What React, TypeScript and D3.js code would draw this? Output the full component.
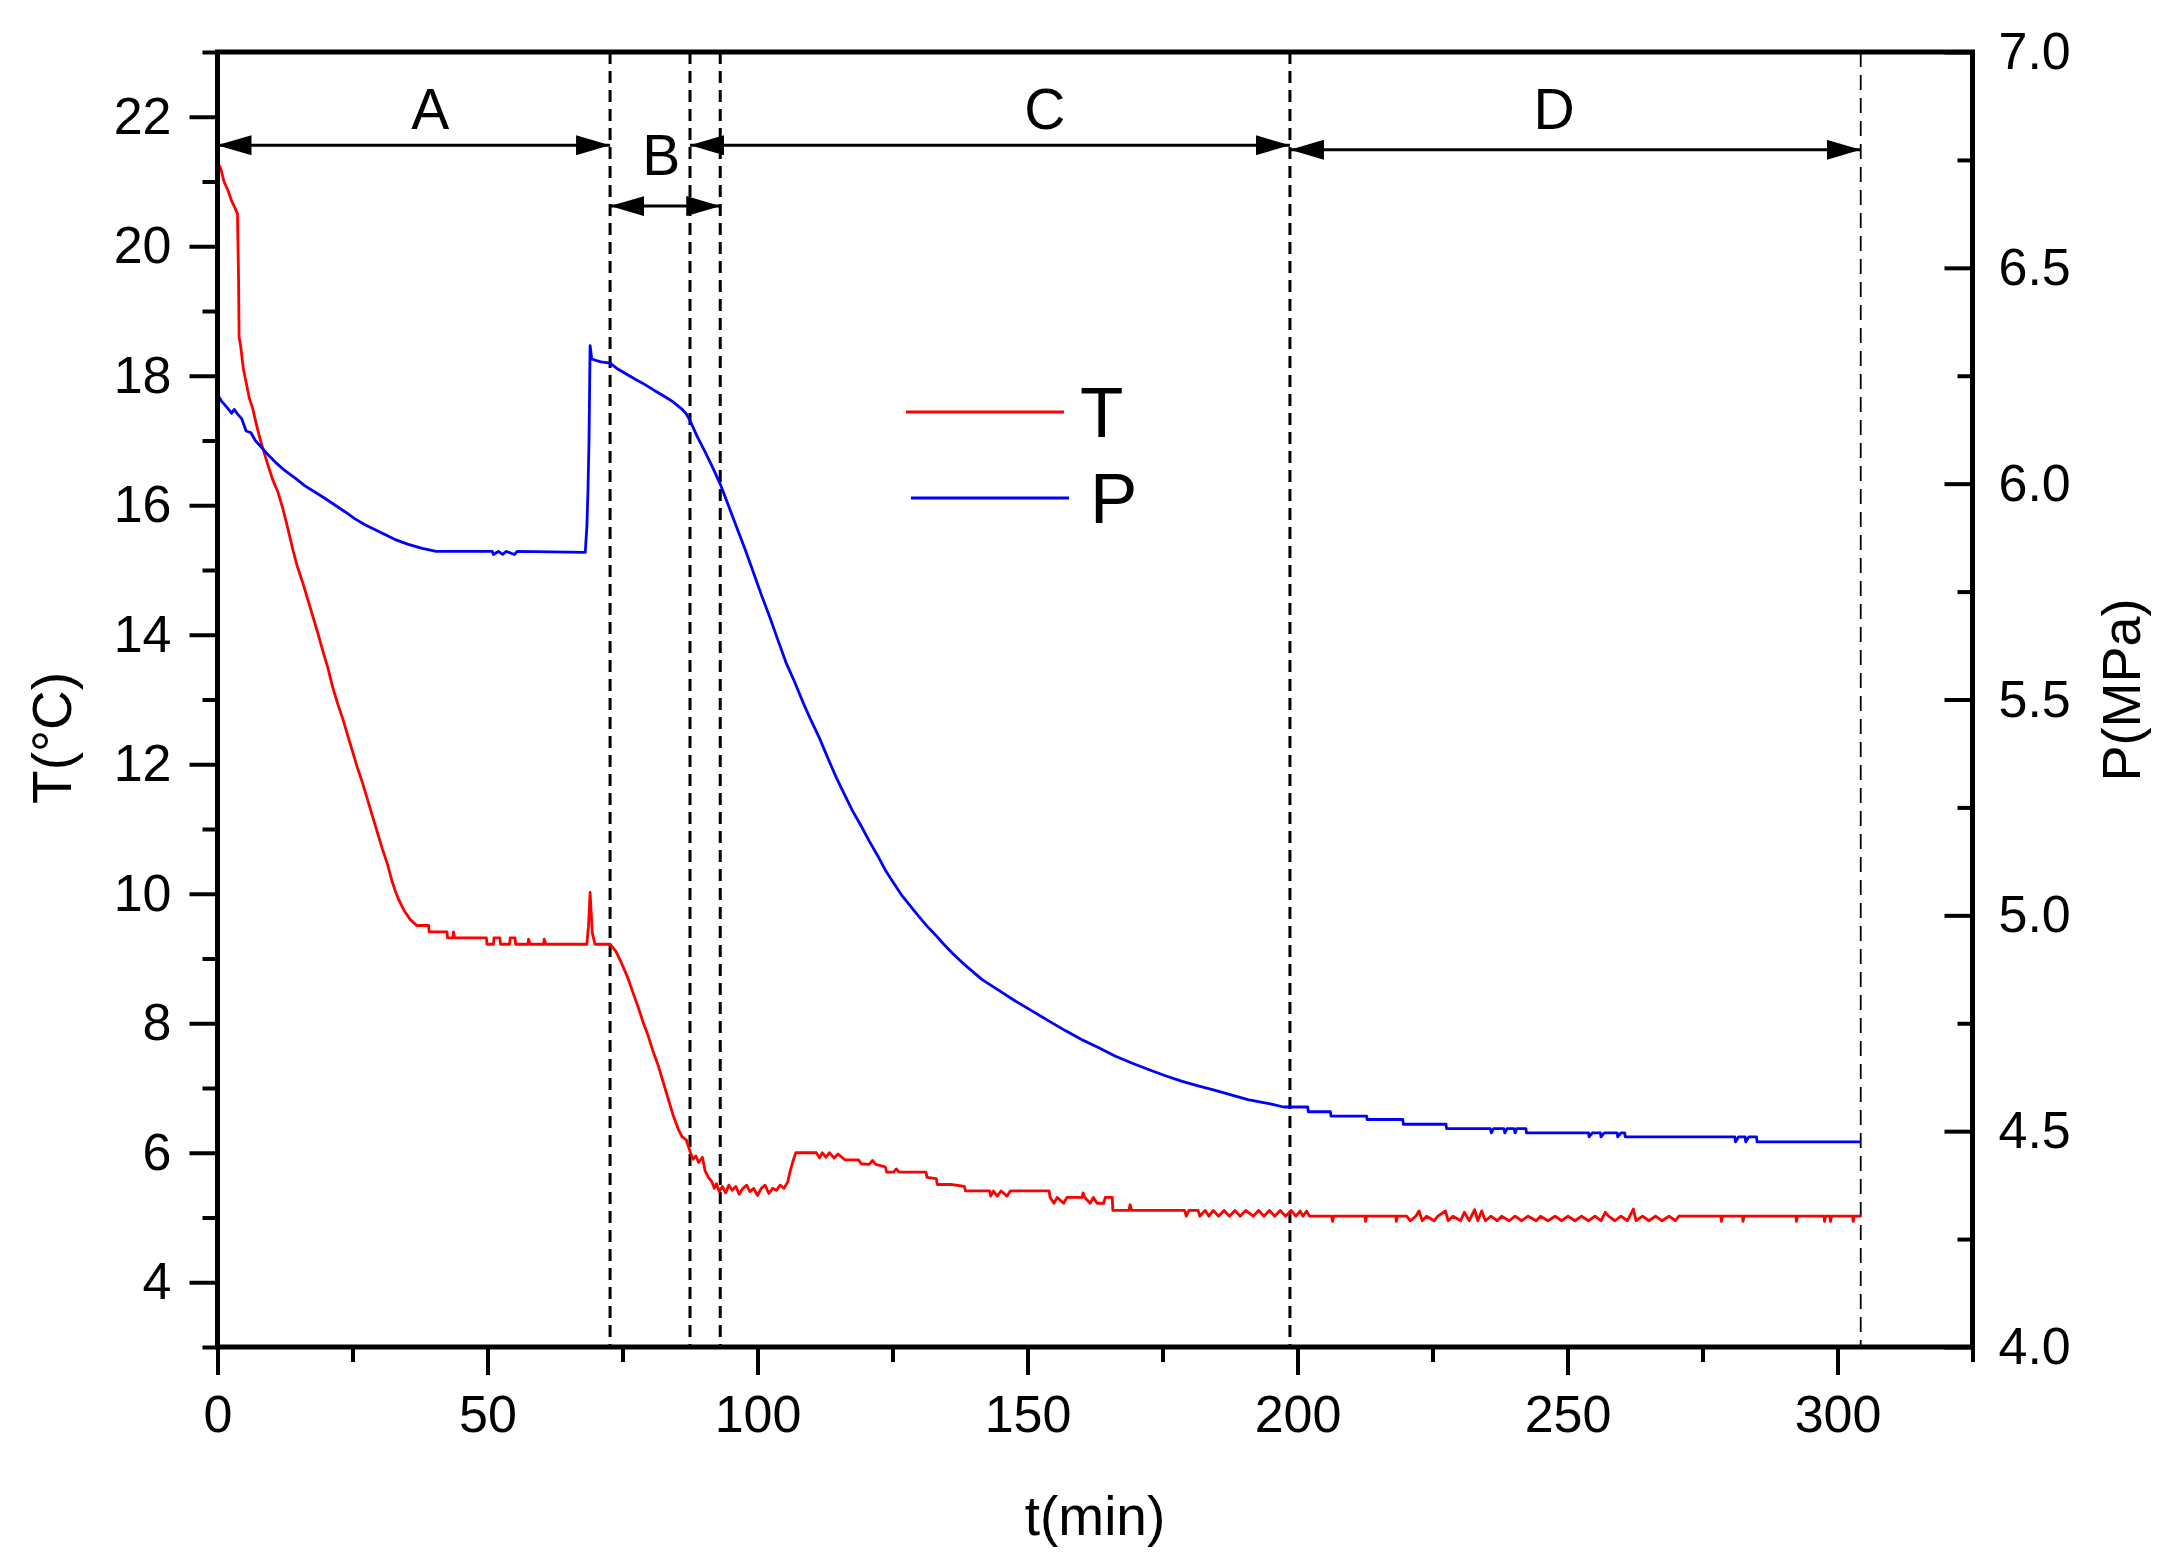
import { useEffect, useRef } from 'react'
import * as d3 from 'd3'

const W = 2177
const H = 1565
const FONT = '"Liberation Sans", Arial, sans-serif'

// plot box in page pixels
const left = 217.5
const right = 1972.5
const top = 52
const bottom = 1347

// T (°C) against t (min)
const tempData: [number, number][] = [
  [0, 21.3], [0.6, 21.2], [1.2, 21.0], [2.0, 20.85], [2.6, 20.7], [3.2, 20.6], [3.7, 20.5], [3.9, 19.5],
  [4.0, 18.6], [4.3, 18.45], [4.8, 18.1], [5.3, 17.9], [5.9, 17.65], [6.5, 17.5], [7.2, 17.25], [7.8, 17.05],
  [8.5, 16.85], [9.3, 16.63], [10.2, 16.4], [11.2, 16.2], [12.1, 15.95], [13.0, 15.65], [14.0, 15.3],
  [14.8, 15.05], [15.8, 14.8], [16.7, 14.55], [17.6, 14.3], [18.5, 14.05], [19.5, 13.75], [20.4, 13.5],
  [21.3, 13.2], [22.2, 12.95], [23.2, 12.7], [24.1, 12.45], [25.0, 12.2], [25.9, 11.95], [26.9, 11.7],
  [27.8, 11.45], [28.7, 11.2], [29.6, 10.95], [30.5, 10.7], [31.5, 10.45], [32.3, 10.2], [32.9, 10.05],
  [33.6, 9.9], [34.5, 9.75], [35.7, 9.6], [36.9, 9.51], [39.1, 9.51], [39.2, 9.41], [42.5, 9.41],
  [42.6, 9.32], [43.6, 9.32], [43.7, 9.41], [43.9, 9.32], [49.8, 9.32], [49.9, 9.22], [51.1, 9.22],
  [51.2, 9.32], [52.3, 9.32], [52.4, 9.22], [54.1, 9.22], [54.2, 9.32], [55.1, 9.32], [55.2, 9.22],
  [57.5, 9.22], [57.6, 9.3], [57.9, 9.22], [60.4, 9.22], [60.5, 9.3], [60.8, 9.22], [68.4, 9.22],
  [68.7, 9.5], [69.0, 10.02], [69.4, 9.4], [69.9, 9.22], [72.7, 9.22], [73.7, 9.12], [74.7, 8.95],
  [76.0, 8.7], [76.9, 8.48], [77.9, 8.25], [78.8, 8.02], [79.7, 7.82], [80.6, 7.58], [81.6, 7.35],
  [82.5, 7.1], [83.4, 6.85], [84.3, 6.6], [85.3, 6.37], [86.0, 6.25], [86.8, 6.2], [87.6, 6.0],
  [88.1, 5.9], [88.6, 5.95], [89.1, 5.85], [89.8, 5.93], [90.3, 5.72], [90.9, 5.62], [91.5, 5.56],
  [92.0, 5.45], [92.4, 5.52], [92.9, 5.4], [93.5, 5.48], [94.1, 5.38], [94.7, 5.5], [95.3, 5.42],
  [96.0, 5.48], [96.6, 5.36], [97.3, 5.45], [98.0, 5.5], [98.6, 5.4], [99.3, 5.45], [100.0, 5.34],
  [100.7, 5.45], [101.4, 5.5], [102.1, 5.37], [102.8, 5.45], [103.5, 5.42], [104.2, 5.5], [104.9, 5.45],
  [105.6, 5.55], [106.0, 5.7], [106.6, 5.88], [107.1, 6.0], [110.9, 6.0], [111.5, 5.92], [112.0, 6.0],
  [112.7, 5.93], [113.3, 6.0], [114.2, 5.92], [114.9, 5.98], [116.2, 5.89], [118.7, 5.89], [119.2, 5.83],
  [120.7, 5.82], [121.3, 5.88], [121.9, 5.82], [123.7, 5.78], [123.9, 5.7], [125.2, 5.7], [125.7, 5.75],
  [126.2, 5.7], [131.2, 5.7], [131.4, 5.62], [133.1, 5.6], [133.3, 5.51], [135.8, 5.51], [138.3, 5.48],
  [138.5, 5.41], [143.0, 5.41], [143.2, 5.33], [143.7, 5.41], [144.4, 5.33], [145.1, 5.41], [146.2, 5.33],
  [146.8, 5.41], [154.0, 5.41], [154.2, 5.31], [154.9, 5.22], [155.5, 5.31], [156.7, 5.22], [157.3, 5.31],
  [160.1, 5.31], [160.3, 5.38], [160.6, 5.31], [161.6, 5.22], [162.2, 5.31], [162.9, 5.22], [164.1, 5.22],
  [164.4, 5.31], [165.7, 5.31], [165.8, 5.11], [168.8, 5.11], [169.0, 5.2], [169.3, 5.11], [179.1, 5.11],
  [179.4, 5.02], [179.9, 5.11], [181.6, 5.11], [181.9, 5.02], [182.9, 5.11], [183.6, 5.02], [184.4, 5.11],
  [185.4, 5.02], [186.4, 5.11], [187.4, 5.02], [188.4, 5.11], [189.4, 5.02], [190.4, 5.11], [191.8, 5.02],
  [192.8, 5.11], [193.8, 5.02], [194.8, 5.11], [195.8, 5.02], [196.8, 5.11], [197.8, 5.02], [198.8, 5.11],
  [199.7, 5.02], [200.5, 5.1], [201.0, 5.02], [201.7, 5.1], [202.2, 5.02], [206.3, 5.02], [206.5, 4.94],
  [206.7, 5.02], [212.5, 5.02], [212.6, 4.94], [212.8, 5.02], [218.2, 5.02], [218.3, 4.94], [218.5, 5.02],
  [220.2, 5.02], [220.9, 4.95], [221.9, 5.02], [222.5, 5.1], [223.1, 4.95], [223.9, 5.02], [225.3, 4.95],
  [226.0, 5.02], [227.4, 5.1], [227.9, 4.95], [228.8, 5.02], [230.2, 4.95], [230.9, 5.08], [231.8, 4.95],
  [232.8, 5.12], [233.4, 4.95], [234.1, 5.1], [234.8, 4.95], [235.8, 5.02], [237.0, 4.95], [237.8, 5.02],
  [239.2, 4.95], [240.3, 5.02], [241.5, 4.95], [242.7, 5.02], [244.2, 4.95], [245.0, 5.02], [246.4, 4.95],
  [247.7, 5.02], [248.9, 4.95], [250.1, 5.02], [251.4, 4.95], [252.6, 5.02], [253.9, 4.95], [255.1, 5.02],
  [256.2, 4.95], [257.0, 5.08], [257.6, 5.02], [258.8, 4.95], [259.9, 5.02], [261.1, 4.95], [262.2, 5.13],
  [262.7, 4.95], [263.9, 5.02], [265.1, 4.95], [266.3, 5.02], [267.5, 4.95], [268.8, 5.02], [270.0, 4.95],
  [270.6, 5.02], [278.4, 5.02], [278.5, 4.94], [278.7, 5.02], [282.4, 5.02], [282.5, 4.94], [282.7, 5.02],
  [292.3, 5.02], [292.4, 4.94], [292.6, 5.02], [297.5, 5.02], [297.6, 4.94], [297.8, 5.02], [298.6, 5.02],
  [298.7, 4.94], [298.9, 5.02], [302.8, 5.02], [302.9, 4.94], [303.1, 5.02], [304.3, 5.02],
]

// P (MPa) against t (min)
const presData: [number, number][] = [
  [0, 6.207], [0.8, 6.19], [1.4, 6.182], [2.2, 6.17], [2.6, 6.163], [3.1, 6.172], [3.6, 6.163], [4.5, 6.15],
  [5.3, 6.122], [6.2, 6.118], [7.0, 6.1], [8.3, 6.082], [9.5, 6.065], [10.7, 6.05], [12.5, 6.03],
  [14.4, 6.013], [16.2, 5.995], [18.1, 5.98], [20.0, 5.965], [21.8, 5.95], [23.6, 5.935], [25.4, 5.919],
  [27.3, 5.905], [29.1, 5.894], [31.0, 5.882], [32.8, 5.871], [35.2, 5.86], [37.9, 5.85], [40.5, 5.843],
  [50.9, 5.843], [51.1, 5.836], [52.0, 5.843], [52.8, 5.836], [53.5, 5.843], [55.0, 5.836], [55.5, 5.843],
  [68.1, 5.841], [68.4, 5.9], [68.6, 5.98], [68.8, 6.1], [69.0, 6.32], [69.3, 6.289], [70.0, 6.286],
  [71.0, 6.282], [72.7, 6.279], [74.2, 6.265], [76.1, 6.251], [77.6, 6.24], [79.1, 6.23], [80.9, 6.216],
  [82.8, 6.202], [84.3, 6.19], [85.9, 6.174], [86.8, 6.162], [87.5, 6.146], [88.8, 6.11], [90.2, 6.076],
  [91.6, 6.04], [93.1, 5.999], [94.6, 5.95], [96.1, 5.9], [97.7, 5.848], [99.2, 5.796], [100.7, 5.743],
  [102.3, 5.69], [103.8, 5.637], [105.3, 5.585], [106.9, 5.54], [108.4, 5.494], [109.9, 5.452],
  [111.5, 5.41], [113.0, 5.365], [114.6, 5.319], [116.1, 5.28], [117.6, 5.242], [119.2, 5.207],
  [120.7, 5.172], [122.3, 5.137], [123.8, 5.102], [125.3, 5.073], [126.8, 5.045], [128.4, 5.02],
  [129.9, 4.997], [131.4, 4.975], [133.0, 4.954], [134.5, 4.933], [136.1, 4.912], [138.5, 4.884],
  [141.6, 4.851], [144.7, 4.826], [147.8, 4.801], [150.9, 4.778], [154.0, 4.755], [157.0, 4.733],
  [160.1, 4.712], [163.2, 4.693], [166.2, 4.674], [169.3, 4.658], [172.4, 4.643], [175.4, 4.629],
  [178.5, 4.616], [181.6, 4.605], [184.6, 4.595], [187.7, 4.584], [190.8, 4.573], [194.7, 4.564],
  [197.4, 4.556], [201.9, 4.556], [202.0, 4.545], [206.1, 4.545], [206.2, 4.535], [212.8, 4.535],
  [212.9, 4.527], [219.5, 4.527], [219.6, 4.516], [227.5, 4.516], [227.6, 4.506], [235.7, 4.506],
  [235.9, 4.496], [236.3, 4.506], [238.2, 4.506], [238.4, 4.496], [238.8, 4.506], [240.1, 4.506],
  [240.3, 4.496], [240.6, 4.506], [242.3, 4.506], [242.4, 4.496], [253.9, 4.496], [254.0, 4.487],
  [254.6, 4.496], [256.1, 4.496], [256.2, 4.487], [256.8, 4.496], [259.2, 4.496], [259.3, 4.487],
  [259.9, 4.496], [260.6, 4.496], [260.7, 4.487], [281.0, 4.487], [281.1, 4.475], [281.7, 4.487],
  [282.9, 4.487], [283.0, 4.475], [283.6, 4.487], [285.0, 4.487], [285.1, 4.475], [304.3, 4.475],
]

// axis ticks
const tMajor = [0, 50, 100, 150, 200, 250, 300]
const tMinor = [25, 75, 125, 175, 225, 275, 325]
const tempMajor = [4, 6, 8, 10, 12, 14, 16, 18, 20, 22]
const tempMinor = [3, 5, 7, 9, 11, 13, 15, 17, 19, 21, 23]
const presMajor = [4.0, 4.5, 5.0, 5.5, 6.0, 6.5, 7.0]
const presMinor = [4.25, 4.75, 5.25, 5.75, 6.25, 6.75]

// stage boundaries (min) and stage arrows
const boundaries = [72.7, 87.5, 93.1, 198.6, 304.3]
const stageNames = ['A', 'B', 'C', 'D']
const stageFrom = [0, 72.7, 87.5, 198.6]
const stageTo = [72.7, 93.1, 198.6, 304.3]
const stageArrowT = [21.56, 20.62, 21.56, 21.49]
const stageLabelAt = [39.4, 82.2, 153.2, 247.5]
const stageLabelT = [21.81, 21.1, 21.81, 21.81]

const legendNames = ['T', 'P']
const colors = ['#ff0000', '#0000ff']

export default function App() {
  const axesRef = useRef<SVGGElement>(null)

  const x = d3.scaleLinear([0, 325], [left, right])
  const yT = d3.scaleLinear([3, 23], [bottom, top])
  const yP = d3.scaleLinear([4, 7], [bottom, top])

  const tempLine = d3.line<[number, number]>().x(d => x(d[0])).y(d => yT(d[1]))
  const presLine = d3.line<[number, number]>().x(d => x(d[0])).y(d => yP(d[1]))

  useEffect(() => {
    document.body.style.margin = '0'
    if (!axesRef.current) return
    const g = d3.select(axesRef.current)
    g.selectAll('*').remove()

    const style = (sel: any) => {
      sel.select('.domain').remove()
      sel.selectAll('line').attr('stroke', '#000').attr('stroke-width', 4)
      sel.selectAll('text').attr('font-family', FONT).attr('font-size', 52).attr('fill', '#000')
    }

    g.append('g').attr('transform', `translate(0,${bottom})`)
      .call(d3.axisBottom(x).tickValues(tMajor).tickSize(28).tickPadding(20).tickFormat(d3.format('d')))
      .call(style)
    g.append('g').attr('transform', `translate(0,${bottom})`)
      .call(d3.axisBottom(x).tickValues(tMinor).tickSize(15).tickFormat(() => ''))
      .call(style)

    g.append('g').attr('transform', `translate(${left},0)`)
      .call(d3.axisLeft(yT).tickValues(tempMajor).tickSize(28).tickPadding(18).tickFormat(d3.format('d')))
      .call(style)
    g.append('g').attr('transform', `translate(${left},0)`)
      .call(d3.axisLeft(yT).tickValues(tempMinor).tickSize(15).tickFormat(() => ''))
      .call(style)

    // right axis ticks point into the plot
    g.append('g').attr('transform', `translate(${right},0)`)
      .call(d3.axisRight(yP).tickValues(presMajor).tickSize(-28).tickPadding(26).tickFormat(d3.format('.1f')))
      .call(style)
    g.append('g').attr('transform', `translate(${right},0)`)
      .call(d3.axisRight(yP).tickValues(presMinor).tickSize(-15).tickFormat(() => ''))
      .call(style)
  }, [])

  return (
    <div style={{ position: 'absolute', left: 0, top: 0 }}>
      <svg width={W} height={H} style={{ display: 'block', background: '#fff' }}>
        <defs>
          <marker id="head" markerUnits="userSpaceOnUse" markerWidth={34} markerHeight={20}
            refX={34} refY={10} orient="auto-start-reverse">
            <path d="M0,0 L34,10 L0,20 Z" fill="#000" />
          </marker>
        </defs>

        {/* stage boundaries */}
        {boundaries.map((b, i) => (
          <line key={'b' + i} x1={x(b)} x2={x(b)} y1={top} y2={bottom} stroke="#000"
            strokeWidth={i === boundaries.length - 1 ? 1.8 : 3}
            strokeDasharray={i === boundaries.length - 1 ? '15,8' : '12,7'} />
        ))}

        {/* data */}
        <path d={tempLine(tempData) ?? ''} fill="none" stroke={colors[0]} strokeWidth={2.8} strokeLinejoin="round" />
        <path d={presLine(presData) ?? ''} fill="none" stroke={colors[1]} strokeWidth={2.8} strokeLinejoin="round" />

        {/* stage arrows and labels */}
        {stageNames.map((s, i) => (
          <g key={s}>
            <line x1={x(stageFrom[i])} x2={x(stageTo[i])} y1={yT(stageArrowT[i])} y2={yT(stageArrowT[i])}
              stroke="#000" strokeWidth={3} markerStart="url(#head)" markerEnd="url(#head)" />
            <text x={x(stageLabelAt[i])} y={yT(stageLabelT[i])} textAnchor="middle"
              fontFamily={FONT} fontSize={57} fill="#000">{s}</text>
          </g>
        ))}

        {/* legend */}
        {legendNames.map((n, i) => (
          <g key={n} transform={`translate(0,${i * 86})`}>
            <line x1={906 + i * 5} x2={1064 + i * 5} y1={412} y2={412} stroke={colors[i]} strokeWidth={2.8} />
            <text x={1080 + i * 10} y={437} fontFamily={FONT} fontSize={71} fill="#000">{n}</text>
          </g>
        ))}

        {/* frame */}
        <rect x={left} y={top} width={right - left} height={bottom - top} fill="none" stroke="#000" strokeWidth={5} />

        <g ref={axesRef} />

        {/* axis titles */}
        <text x={(left + right) / 2} y={1535} textAnchor="middle" fontFamily={FONT} fontSize={55} fill="#000">t(min)</text>
        <text transform={`translate(71,738) rotate(-90)`} textAnchor="middle" fontFamily={FONT} fontSize={55} fill="#000">T(°C)</text>
        <text transform={`translate(2140,690) rotate(-90)`} textAnchor="middle" fontFamily={FONT} fontSize={54} fill="#000">P(MPa)</text>
      </svg>
    </div>
  )
}
